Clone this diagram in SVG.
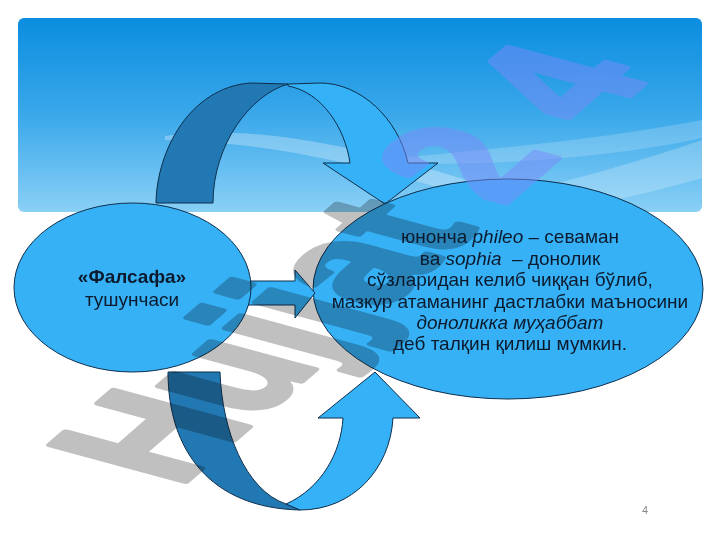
<svg xmlns="http://www.w3.org/2000/svg" width="720" height="540" viewBox="0 0 720 540">
  <defs>
    <linearGradient id="bannerGrad" x1="0" y1="0" x2="0" y2="1">
      <stop offset="0" stop-color="#0b8ddf"/>
      <stop offset="0.5" stop-color="#3aa8ea"/>
      <stop offset="1" stop-color="#8ad0f6"/>
    </linearGradient>
    <style>
      .light { fill: #35b2f7; stroke: #0d2f4d; stroke-width: 1; stroke-linejoin: miter; }
      .dark { fill: #2278b3; stroke: #0d2f4d; stroke-width: 1; }
      .node { fill: #36b1f6; stroke: #0d2f4d; stroke-width: 1; }
      .txt { font-family: "Liberation Sans", Arial, sans-serif; font-size: 19px; fill: #0c1a2e; text-anchor: middle; white-space: pre; }
      .wm { font-family: "Liberation Sans", Arial, sans-serif; font-weight: bold; font-size: 100px; stroke-width: 4; stroke-linejoin: round; }
    </style>
  </defs>

  <g id="banner">
    <rect x="18" y="18" width="684" height="194" rx="6" ry="6" fill="url(#bannerGrad)"/>
    <path d="M165,136 C260,122 390,150 560,212 L515,212 C380,166 270,142 165,140 Z" fill="#ffffff" opacity="0.28"/>
    <path d="M380,160 C480,150 600,140 702,120 L702,138 C600,160 480,166 380,163 Z" fill="#ffffff" opacity="0.18"/>
    <path d="M420,212 C520,196 620,168 702,140 L702,178 C640,196 590,205 560,212 Z" fill="#ffffff" opacity="0.22"/>
  </g>

  <g id="connectors">
    <g id="arrow-top">
      <path class="dark" d="M156,203 C157,150 190,88 250,83 L288,84 C250,95 213,145 213,203 Z"/>
      <path class="light" d="M288,84 L320,83 C360,83 398,118 408,163 L438,163 L385,204 L323,163 L350,163 C345,128 322,92 288,86 Z"/>
    </g>
    <g id="arrow-bottom">
      <path class="dark" d="M168,372 C168,450 210,508 300,510 L286,504 C245,490 222,430 220,372 Z"/>
      <path class="light" d="M286,504 C322,488 341,452 343,418 L318,418 L375,372 L420,418 L393,418 C390,470 352,510 300,510 Z"/>
    </g>
  </g>

  <g id="node-right">
    <ellipse class="node" cx="508" cy="289" rx="195" ry="110"/>
  </g>

  <g id="arrow-mid">
    <path class="light" d="M240,281 L295,281 L295,270 L315,293 L295,318 L295,305 L240,305 Z"/>
  </g>

  <g id="node-left">
    <ellipse class="node" cx="132.5" cy="287.5" rx="118.5" ry="84.5"/>
  </g>

  <g id="watermark" transform="matrix(1.08,-0.938,1.959,0.532,178,488)">
    <text class="wm" x="0" y="0" fill="#c0c0c0" stroke="#c0c0c0" style="mix-blend-mode:multiply">Hujjat</text>
    <text class="wm" y="0" fill="#7a8af8" stroke="#7a8af8" opacity="0.5"><tspan x="300">2</tspan><tspan x="385">4</tspan></text>
  </g>

  <g id="node-left-text">
    <text class="txt" x="132" y="283" font-weight="bold">«Фалсафа»</text>
    <text class="txt" x="132" y="306">тушунчаси</text>
  </g>

  <g id="node-right-text">
    <text class="txt" x="510" y="243">юнонча <tspan font-style="italic">phileo</tspan> – севаман</text>
    <text class="txt" x="510" y="265">ва <tspan font-style="italic">sophia</tspan>  – донолик</text>
    <text class="txt" x="510" y="286">сўзларидан келиб чиққан бўлиб,</text>
    <text class="txt" x="510" y="308">мазкур атаманинг дастлабки маъносини</text>
    <text class="txt" x="510" y="329" font-style="italic">доноликка муҳаббат</text>
    <text class="txt" x="510" y="350">деб талқин қилиш мумкин.</text>
  </g>

  <text x="645" y="514" font-family="Liberation Sans, Arial, sans-serif" font-size="11" fill="#8a8a8a" text-anchor="middle">4</text>
</svg>
